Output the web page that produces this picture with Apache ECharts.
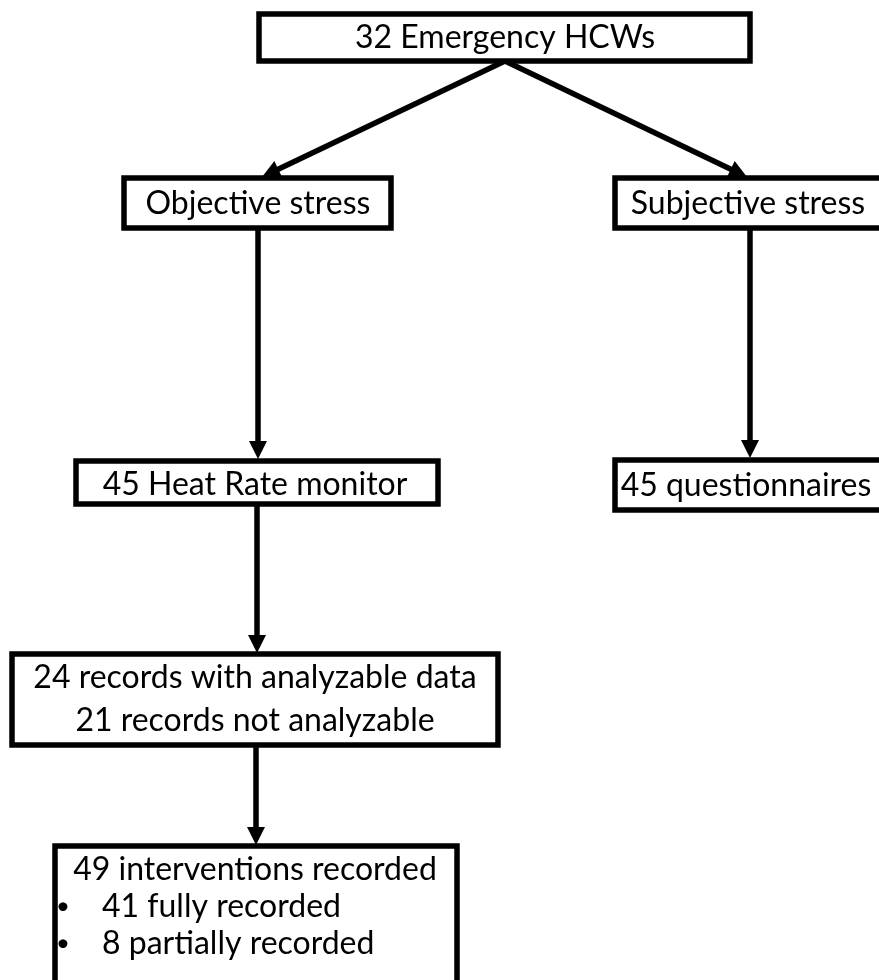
<!DOCTYPE html>
<html lang="en">
<head>
<meta charset="UTF-8">
<title>Flow chart</title>
<script src="https://cdn.jsdelivr.net/npm/echarts@6/dist/echarts.min.js"></script>
<style>html,body{margin:0;padding:0;background:#fff;}</style>
</head>
<body>
<div id="chartmain" style="width:879px; height:980px;"></div>
<script type="text/javascript">

// box outlines (stroke centre line): [x0, y0, x1, y1]
var boxes = [
    [259, 14, 750, 61],    // 32 Emergency HCWs
    [124, 178, 391, 228],  // Objective stress
    [615, 178, 890, 228],  // Subjective stress
    [76, 461, 438, 504],   // 45 Heat Rate monitor
    [615, 460, 890, 510],  // 45 questionnaires
    [12, 654, 498, 745],   // records
    [55, 846, 457, 995]    // interventions
];

// arrows: [fromX, fromY, tipX, tipY]
var arrows = [
    [505, 61, 262, 177],
    [505, 61, 747, 177],
    [258, 228, 258, 459],
    [750, 228, 750, 458],
    [257, 504, 257, 653],
    [256, 745, 256, 845]
];

// texts: [x, y, text, align, size]
var labels = [
    [505, 38, '32 Emergency HCWs', 'center', 32],
    [258, 204, 'Objective stress', 'center', 32],
    [748, 204, 'Subjective stress', 'center', 32],
    [255, 485, '45 Heat Rate monitor', 'center', 32],
    [746, 486, '45 questionnaires', 'center', 32],
    [255, 678, '24 records with analyzable data', 'center', 32],
    [255, 721, '21 records not analyzable', 'center', 32],
    [255, 870, '49 interventions recorded', 'center', 32],
    [56, 906, '\u2022', 'left', 24],
    [102, 907, '41 fully recorded', 'left', 32],
    [56, 943, '\u2022', 'left', 24],
    [102, 944, '8 partially recorded', 'left', 32]
];

var LW = 5.5;
var FONT = 'Lato';

function drawArrow(params, api) {
    var a = api.coord([api.value(0), api.value(1)]);
    var b = api.coord([api.value(2), api.value(3)]);
    var dx = b[0] - a[0], dy = b[1] - a[1];
    var len = Math.sqrt(dx * dx + dy * dy);
    var ux = dx / len, uy = dy / len;
    var hl = 18, hw = 9;
    var bx = b[0] - ux * hl, by = b[1] - uy * hl;
    return {
        type: 'group',
        children: [
            {type: 'line', shape: {x1: a[0], y1: a[1], x2: bx + ux * 3, y2: by + uy * 3},
                style: {stroke: '#000', lineWidth: LW}},
            {type: 'polygon', shape: {points: [[b[0], b[1]], [bx - uy * hw, by + ux * hw], [bx + uy * hw, by - ux * hw]]},
                style: {fill: '#000'}}
        ]
    };
}

function drawBox(params, api) {
    var p0 = api.coord([api.value(0), api.value(1)]);
    var p1 = api.coord([api.value(2), api.value(3)]);
    return {
        type: 'rect',
        shape: {x: p0[0], y: p0[1], width: p1[0] - p0[0], height: p1[1] - p0[1]},
        style: {fill: '#fff', stroke: '#000', lineWidth: LW}
    };
}

function drawText(params, api) {
    var p = api.coord([api.value(0), api.value(1)]);
    var l = labels[params.dataIndex];
    return {
        type: 'text',
        x: p[0], y: p[1],
        style: {text: l[2], fill: '#000', font: l[4] + 'px ' + FONT, align: l[3], verticalAlign: 'middle'}
    };
}

var option = {
    animation: false,
    grid: {left: 0, right: 0, top: 0, bottom: 0},
    xAxis: {type: 'value', min: 0, max: 879, show: false},
    yAxis: {type: 'value', min: 0, max: 980, inverse: true, show: false},
    series: [
        {type: 'custom', renderItem: drawArrow, data: arrows, encode: {x: [0, 2], y: [1, 3]}},
        {type: 'custom', renderItem: drawBox, data: boxes, encode: {x: [0, 2], y: [1, 3]}},
        {type: 'custom', renderItem: drawText, data: labels.map(function (l) { return [l[0], l[1]]; }), encode: {x: 0, y: 1}}
    ]
};

var myChart = echarts.init(document.getElementById('chartmain'));
myChart.setOption(option);
</script>
</body>
</html>
